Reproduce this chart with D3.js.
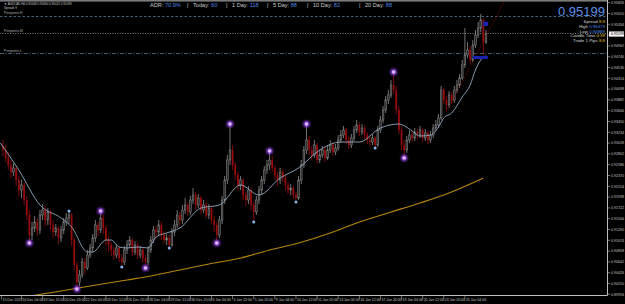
<!DOCTYPE html>
<html>
<head>
<meta charset="utf-8">
<title>AUDCAD,H4</title>
<style>
  body { margin: 0; background: #000; }
  svg { display: block; }
  text { font-family: "Liberation Sans", Arial, sans-serif; }
</style>
</head>
<body>
<div id="chart"></div>
<script src="https://cdn.jsdelivr.net/npm/d3@7/dist/d3.min.js"></script>
<script>
// H4 candles, prices in points (price * 10000); open = previous close
const firstOpen = 9296;
const closes = [9288,9272,9258,9244,9252,9228,9208,9218,9188,9158,
  9118,9132,9144,9128,9158,9168,9148,9164,9138,9124,
  9132,9112,9128,9144,9152,9158,9108,9058,9024,9038,
  9064,9052,9078,9092,9112,9138,9128,9152,9132,9108,
  9098,9088,9078,9092,9072,9064,9088,9098,9108,9084,
  9098,9078,9088,9072,9064,9088,9108,9128,9124,9138,
  9118,9108,9112,9098,9124,9138,9158,9148,9168,9178,
  9164,9188,9198,9178,9192,9168,9178,9158,9172,9148,
  9138,9118,9148,9188,9228,9268,9288,9258,9238,9218,
  9228,9198,9188,9208,9178,9164,9188,9208,9228,9248,
  9258,9268,9252,9238,9228,9244,9232,9218,9208,9212,
  9198,9192,9228,9258,9288,9308,9288,9278,9298,9268,
  9278,9288,9272,9288,9298,9284,9292,9308,9318,9328,
  9308,9298,9312,9328,9338,9324,9332,9318,9308,9304,
  9312,9298,9328,9348,9368,9388,9398,9418,9408,9368,
  9328,9298,9288,9308,9318,9312,9324,9318,9328,9312,
  9322,9308,9318,9332,9338,9352,9408,9388,9378,9398,
  9388,9408,9418,9432,9458,9478,9488,9468,9498,9518,
  9532,9548,9504,9520];
const highs = [9308,9298,9284,9268,9262,9256,9236,9228,9224,9196,
  9168,9144,9156,9152,9168,9180,9176,9172,9168,9148,
  9140,9136,9136,9152,9162,9166,9162,9112,9064,9048,
  9072,9072,9088,9100,9120,9148,9144,9166,9158,9138,
  9116,9104,9094,9100,9096,9080,9096,9108,9116,9112,
  9106,9102,9096,9092,9078,9096,9116,9136,9136,9148,
  9144,9126,9120,9118,9132,9148,9168,9164,9178,9192,
  9184,9196,9212,9204,9200,9196,9188,9184,9180,9176,
  9156,9144,9156,9196,9236,9278,9340,9298,9264,9244,
  9236,9232,9204,9216,9212,9184,9196,9216,9236,9256,
  9268,9286,9276,9258,9244,9252,9248,9238,9224,9220,
  9216,9204,9236,9268,9296,9340,9316,9296,9308,9302,
  9288,9296,9294,9298,9308,9304,9300,9318,9328,9336,
  9332,9316,9320,9336,9348,9344,9340,9338,9324,9316,
  9320,9316,9336,9356,9376,9396,9408,9428,9444,9416,
  9376,9336,9308,9316,9328,9326,9332,9330,9336,9332,
  9330,9326,9326,9340,9348,9360,9416,9412,9396,9406,
  9404,9416,9428,9440,9468,9532,9504,9496,9508,9528,
  9544,9560,9552,9528];
const lows = [9276,9264,9248,9232,9236,9216,9196,9192,9178,9148,
  9102,9108,9124,9116,9120,9148,9136,9138,9128,9112,
  9116,9100,9104,9120,9136,9140,9096,9048,9010,9016,
  9032,9040,9048,9072,9084,9104,9116,9122,9120,9096,
  9084,9076,9068,9072,9064,9054,9058,9080,9092,9076,
  9078,9070,9072,9062,9052,9058,9082,9102,9112,9116,
  9108,9100,9098,9092,9094,9116,9132,9136,9140,9160,
  9156,9158,9180,9168,9172,9160,9162,9152,9150,9140,
  9124,9102,9112,9140,9180,9220,9258,9248,9228,9208,
  9208,9188,9176,9180,9168,9144,9158,9180,9200,9220,
  9240,9248,9244,9228,9216,9220,9224,9208,9200,9198,
  9190,9184,9188,9220,9252,9280,9278,9268,9272,9260,
  9262,9272,9264,9268,9282,9276,9278,9286,9302,9312,
  9300,9290,9292,9306,9322,9316,9318,9310,9300,9296,
  9298,9292,9294,9322,9342,9362,9380,9392,9400,9360,
  9320,9288,9272,9282,9302,9304,9306,9310,9312,9304,
  9306,9300,9302,9312,9326,9332,9348,9380,9368,9372,
  9380,9382,9402,9412,9428,9452,9472,9460,9464,9492,
  9512,9524,9482,9500];

// fast MA (light blue) and slow MA (orange), sampled at bar indices
const fastIdx = [-1,6,14,22,26,32,34,39,41,44,47,51,55,58,62,67,75,82,90,97,105,112,120,128,135,143,150,154,158,162,165,167,170,174,177,179,181,183];
const fastVal = [9302,9248,9178,9152,9134,9084,9084,9108,9108,9094,9092,9094,9092,9114,9122,9132,9172,9178,9218,9198,9232,9252,9288,9304,9304,9332,9340,9330,9316,9318,9334,9352,9362,9394,9418,9448,9468,9476];
const slowIdx = [8,22,33,47,56,67,78,90,101,112,124,135,147,158,169,177,182];
const slowVal = [8994,9006,9016,9028,9036,9048,9060,9072,9088,9102,9122,9144,9164,9182,9202,9220,9232];

// fractal markers
const bigDotIdx = [10,28,37,54,81,86,101,115,148,152];
const bigDotVal = [9102,9010,9166,9052,9102,9340,9286,9340,9444,9272];
const smallDotIdx = [25,45,63,95,111,141];
const smallDotVal = [9166,9054,9092,9144,9184,9292];

// horizontal levels
const levelPrices = [0.95566, 0.95220, 0.94820];
const levelNames = ["Prevpoints H", "Prevpoints M", "Prevpoints L"];

// trend line and level boxes
const trendIdx = [168, 190];
const trendPrice = [0.9364, 0.9586];
const boxIdx = [[181.9, 183.8], [178, 183.7]];
const boxPrice = [[0.95446, 0.95360], [0.94760, 0.94700]];

// axes
const priceTicks = ["0.95826","0.95610","0.95394","0.95178","0.94962","0.94746","0.94530","0.94314","0.94098","0.93882","0.93666","0.93450","0.93234","0.93018","0.92802","0.92586","0.92370","0.92154","0.91938","0.91722","0.91506","0.91290","0.91074","0.90858","0.90642","0.90426","0.90210","0.89994"];
const timeLabels = ["15 Dec 2022","16 Dec 04:00","19 Dec 12:00","20 Dec 20:00","22 Dec 04:00","23 Dec 12:00","26 Dec 20:00","28 Dec 04:00","29 Dec 12:00","30 Dec 20:00","3 Jan 04:00","4 Jan 12:00","5 Jan 20:00","9 Jan 04:00","10 Jan 12:00","11 Jan 20:00","13 Jan 04:00","16 Jan 12:00","17 Jan 20:00","19 Jan 04:00","20 Jan 12:00","23 Jan 20:00","25 Jan 04:00"];
const timeIdx = [0,7,15,23,31,39,47,55,63,71,79,87,95,103,111,119,127,135,143,151,159,167,175];

// info texts
const headerText = "\u25BC AUDCAD,H4  0.95048 0.95464 0.95022 0.95199";
const spreadText = "Spread: 9";
const bidPrice = "0.95199";
const adrLabels = ["ADR:", "Today:", "1 Day:", "5 Day:", "10 Day:", "20 Day:"];
const adrValues = ["70.9%", "60", "118", "88", "82", "88"];
const infoLabels = ["Spread", "High", "Low", "Candle Time", "Trade 1 Pips"];
const infoValues = ["8.9", "0.95479", "0.94888", "0:39", "8.8"];

const W = 625, H = 304;
const plotW = 607.5, plotH = 295.5;

const svg = d3.select("#chart").append("svg")
  .attr("width", W).attr("height", H)
  .style("background", "#000");

const defs = svg.append("defs");
defs.append("clipPath").attr("id", "plot")
  .append("rect").attr("x", 0).attr("y", 0).attr("width", plotW).attr("height", plotH);
const glow = defs.append("filter").attr("id", "glow")
  .attr("x", "-100%").attr("y", "-100%").attr("width", "300%").attr("height", "300%");
glow.append("feGaussianBlur").attr("stdDeviation", 1.1);

const x = d3.scaleLinear().domain([0, 183]).range([3, 486]);
const y = d3.scaleLinear().domain([0.8998, 0.9588]).range([295, 0]);

const g = svg.append("g").attr("clip-path", "url(#plot)");

// top strip
svg.append("rect").attr("x", 0).attr("y", 0).attr("width", plotW).attr("height", 1.6).attr("fill", "#7a7a7a");

// horizontal levels
const levelStyles = [
  { color: "#5a7896", dash: "2.5,2" },
  { color: "#9a9a9a", dash: "1,1.5" },
  { color: "#5a7896", dash: "4,1.5,1,1.5" }
];
levelPrices.forEach((p, k) => {
  g.append("line")
    .attr("x1", 0).attr("x2", plotW)
    .attr("y1", Math.round(y(p)) + 0.5).attr("y2", Math.round(y(p)) + 0.5)
    .attr("stroke", levelStyles[k].color).attr("stroke-width", 0.8)
    .attr("stroke-dasharray", levelStyles[k].dash);
  svg.append("text").attr("x", 4).attr("y", y(p) - 1.5)
    .attr("font-size", 3.2).attr("fill", "#b0b0b0")
    .text(levelNames[k]);
});

// slow MA
const line = d3.line().curve(d3.curveMonotoneX)
  .x(d => x(d[0])).y(d => y(d[1] / 10000));
g.append("path").datum(slowIdx.map((d, k) => [d, slowVal[k]]))
  .attr("d", line).attr("fill", "none")
  .attr("stroke", "#b8860b").attr("stroke-width", 1.1);

// candles
const candles = closes.map((c, i) => {
  const o = i ? closes[i - 1] : firstOpen;
  return { i, o: o / 10000, c: c / 10000,
    h: Math.max(highs[i], o, c) / 10000, l: Math.min(lows[i], o, c) / 10000 };
});
const bullCol = "#8e8e8e", bearCol = "#9a0c0c";
const cg = g.append("g");
cg.selectAll("line.wick").data(candles).join("line")
  .attr("class", "wick")
  .attr("x1", d => x(d.i)).attr("x2", d => x(d.i))
  .attr("y1", d => y(d.h)).attr("y2", d => y(d.l))
  .attr("stroke", d => d.c >= d.o ? bullCol : bearCol)
  .attr("stroke-width", 0.8);
cg.selectAll("rect.body").data(candles).join("rect")
  .attr("class", "body")
  .attr("x", d => x(d.i) - 0.85).attr("width", 1.7)
  .attr("y", d => y(Math.max(d.o, d.c)))
  .attr("height", d => Math.max(0.7, Math.abs(y(d.o) - y(d.c))))
  .attr("fill", d => d.c >= d.o ? "#2a2a2a" : bearCol)
  .attr("stroke", d => d.c >= d.o ? bullCol : "none")
  .attr("stroke-width", 0.5);

// fast MA
g.append("path").datum(fastIdx.map((d, k) => [d, fastVal[k]]))
  .attr("d", line).attr("fill", "none")
  .attr("stroke", "#93abc3").attr("stroke-width", 0.9);

// trend line
g.append("line")
  .attr("x1", x(trendIdx[0])).attr("y1", y(trendPrice[0]))
  .attr("x2", x(trendIdx[1])).attr("y2", y(trendPrice[1]))
  .attr("stroke", "#b00000").attr("stroke-width", 0.8)
  .attr("stroke-dasharray", "1,1.5");

// level boxes
boxIdx.forEach((b, k) => {
  g.append("rect")
    .attr("x", x(b[0])).attr("width", x(b[1]) - x(b[0]))
    .attr("y", y(boxPrice[k][0])).attr("height", y(boxPrice[k][1]) - y(boxPrice[k][0]))
    .attr("fill", "#1c22b0");
});

// fractal dots
const big = g.append("g");
bigDotIdx.forEach((d, k) => {
  big.append("circle").attr("cx", x(d)).attr("cy", y(bigDotVal[k] / 10000))
    .attr("r", 3.2).attr("fill", "#a24cff").attr("opacity", 0.9).attr("filter", "url(#glow)");
  big.append("circle").attr("cx", x(d)).attr("cy", y(bigDotVal[k] / 10000))
    .attr("r", 1.8).attr("fill", "#dcb8ff");
});
smallDotIdx.forEach((d, k) => {
  g.append("circle").attr("cx", x(d)).attr("cy", y(smallDotVal[k] / 10000))
    .attr("r", 1.5).attr("fill", "#86b4f2");
});

// axes frame
svg.append("line").attr("x1", plotW).attr("x2", plotW).attr("y1", 0).attr("y2", plotH)
  .attr("stroke", "#bdbdbd").attr("stroke-width", 1);
svg.append("line").attr("x1", 0).attr("x2", plotW).attr("y1", plotH).attr("y2", plotH)
  .attr("stroke", "#bdbdbd").attr("stroke-width", 1);

// price axis
priceTicks.forEach(t => {
  const ty = y(+t);
  svg.append("line").attr("x1", plotW).attr("x2", plotW + 2.5)
    .attr("y1", ty).attr("y2", ty).attr("stroke", "#bdbdbd").attr("stroke-width", 0.6);
  svg.append("text").attr("x", 611).attr("y", ty + 1.2)
    .attr("font-size", 3.6).attr("fill", "#c4c4c4").text(t);
});
const by = y(+bidPrice);
svg.append("rect").attr("x", 609).attr("y", by - 2.6).attr("width", 15).attr("height", 5.2).attr("fill", "#f2f2f2");
svg.append("text").attr("x", 611).attr("y", by + 1.3)
  .attr("font-size", 3.6).attr("fill", "#000").text(bidPrice);

// time axis
timeLabels.forEach((t, k) => {
  const tx = x(timeIdx[k]) - (k ? 0 : 1.5);
  svg.append("line").attr("x1", tx).attr("x2", tx).attr("y1", plotH).attr("y2", plotH + 4)
    .attr("stroke", "#bdbdbd").attr("stroke-width", 0.6);
  svg.append("text").attr("x", tx + 1).attr("y", 301)
    .attr("font-size", 3.5).attr("fill", "#c4c4c4").text(t);
});

// header texts
svg.append("text").attr("x", 4).attr("y", 5).attr("font-size", 3).attr("fill", "#c8c8c8").text(headerText);
svg.append("text").attr("x", 4).attr("y", 9).attr("font-size", 3).attr("fill", "#c8c8c8").text(spreadText);

// ADR strip
const adrX = [150, 193, 232, 273, 313, 365];
adrLabels.forEach((l, k) => {
  const t = svg.append("text").attr("x", adrX[k]).attr("y", 7).attr("font-size", 5.6);
  t.append("tspan").attr("fill", "#c8c8c8").text(l + " ");
  t.append("tspan").attr("fill", "#4a86e0").text(adrValues[k]);
  if (k < adrLabels.length - 1) {
    svg.append("text").attr("x", adrX[k + 1] - 6).attr("y", 7).attr("font-size", 5.6)
      .attr("fill", "#c8c8c8").text("|");
  }
});

// right info panel
svg.append("text").attr("x", 605).attr("y", 15.8).attr("text-anchor", "end")
  .attr("font-size", 13).attr("fill", "#5b8fe6").text(bidPrice);
const infoColors = ["#e8c000", "#4a86e0", "#4a86e0", "#e8c000", "#e8c000"];
infoLabels.forEach((l, k) => {
  const t = svg.append("text").attr("x", 605).attr("y", 23 + k * 4.8)
    .attr("text-anchor", "end").attr("font-size", 4.4);
  t.append("tspan").attr("fill", "#d8d8d8").text(l + "  ");
  t.append("tspan").attr("fill", infoColors[k]).text(infoValues[k]);
});
</script>
</body>
</html>
